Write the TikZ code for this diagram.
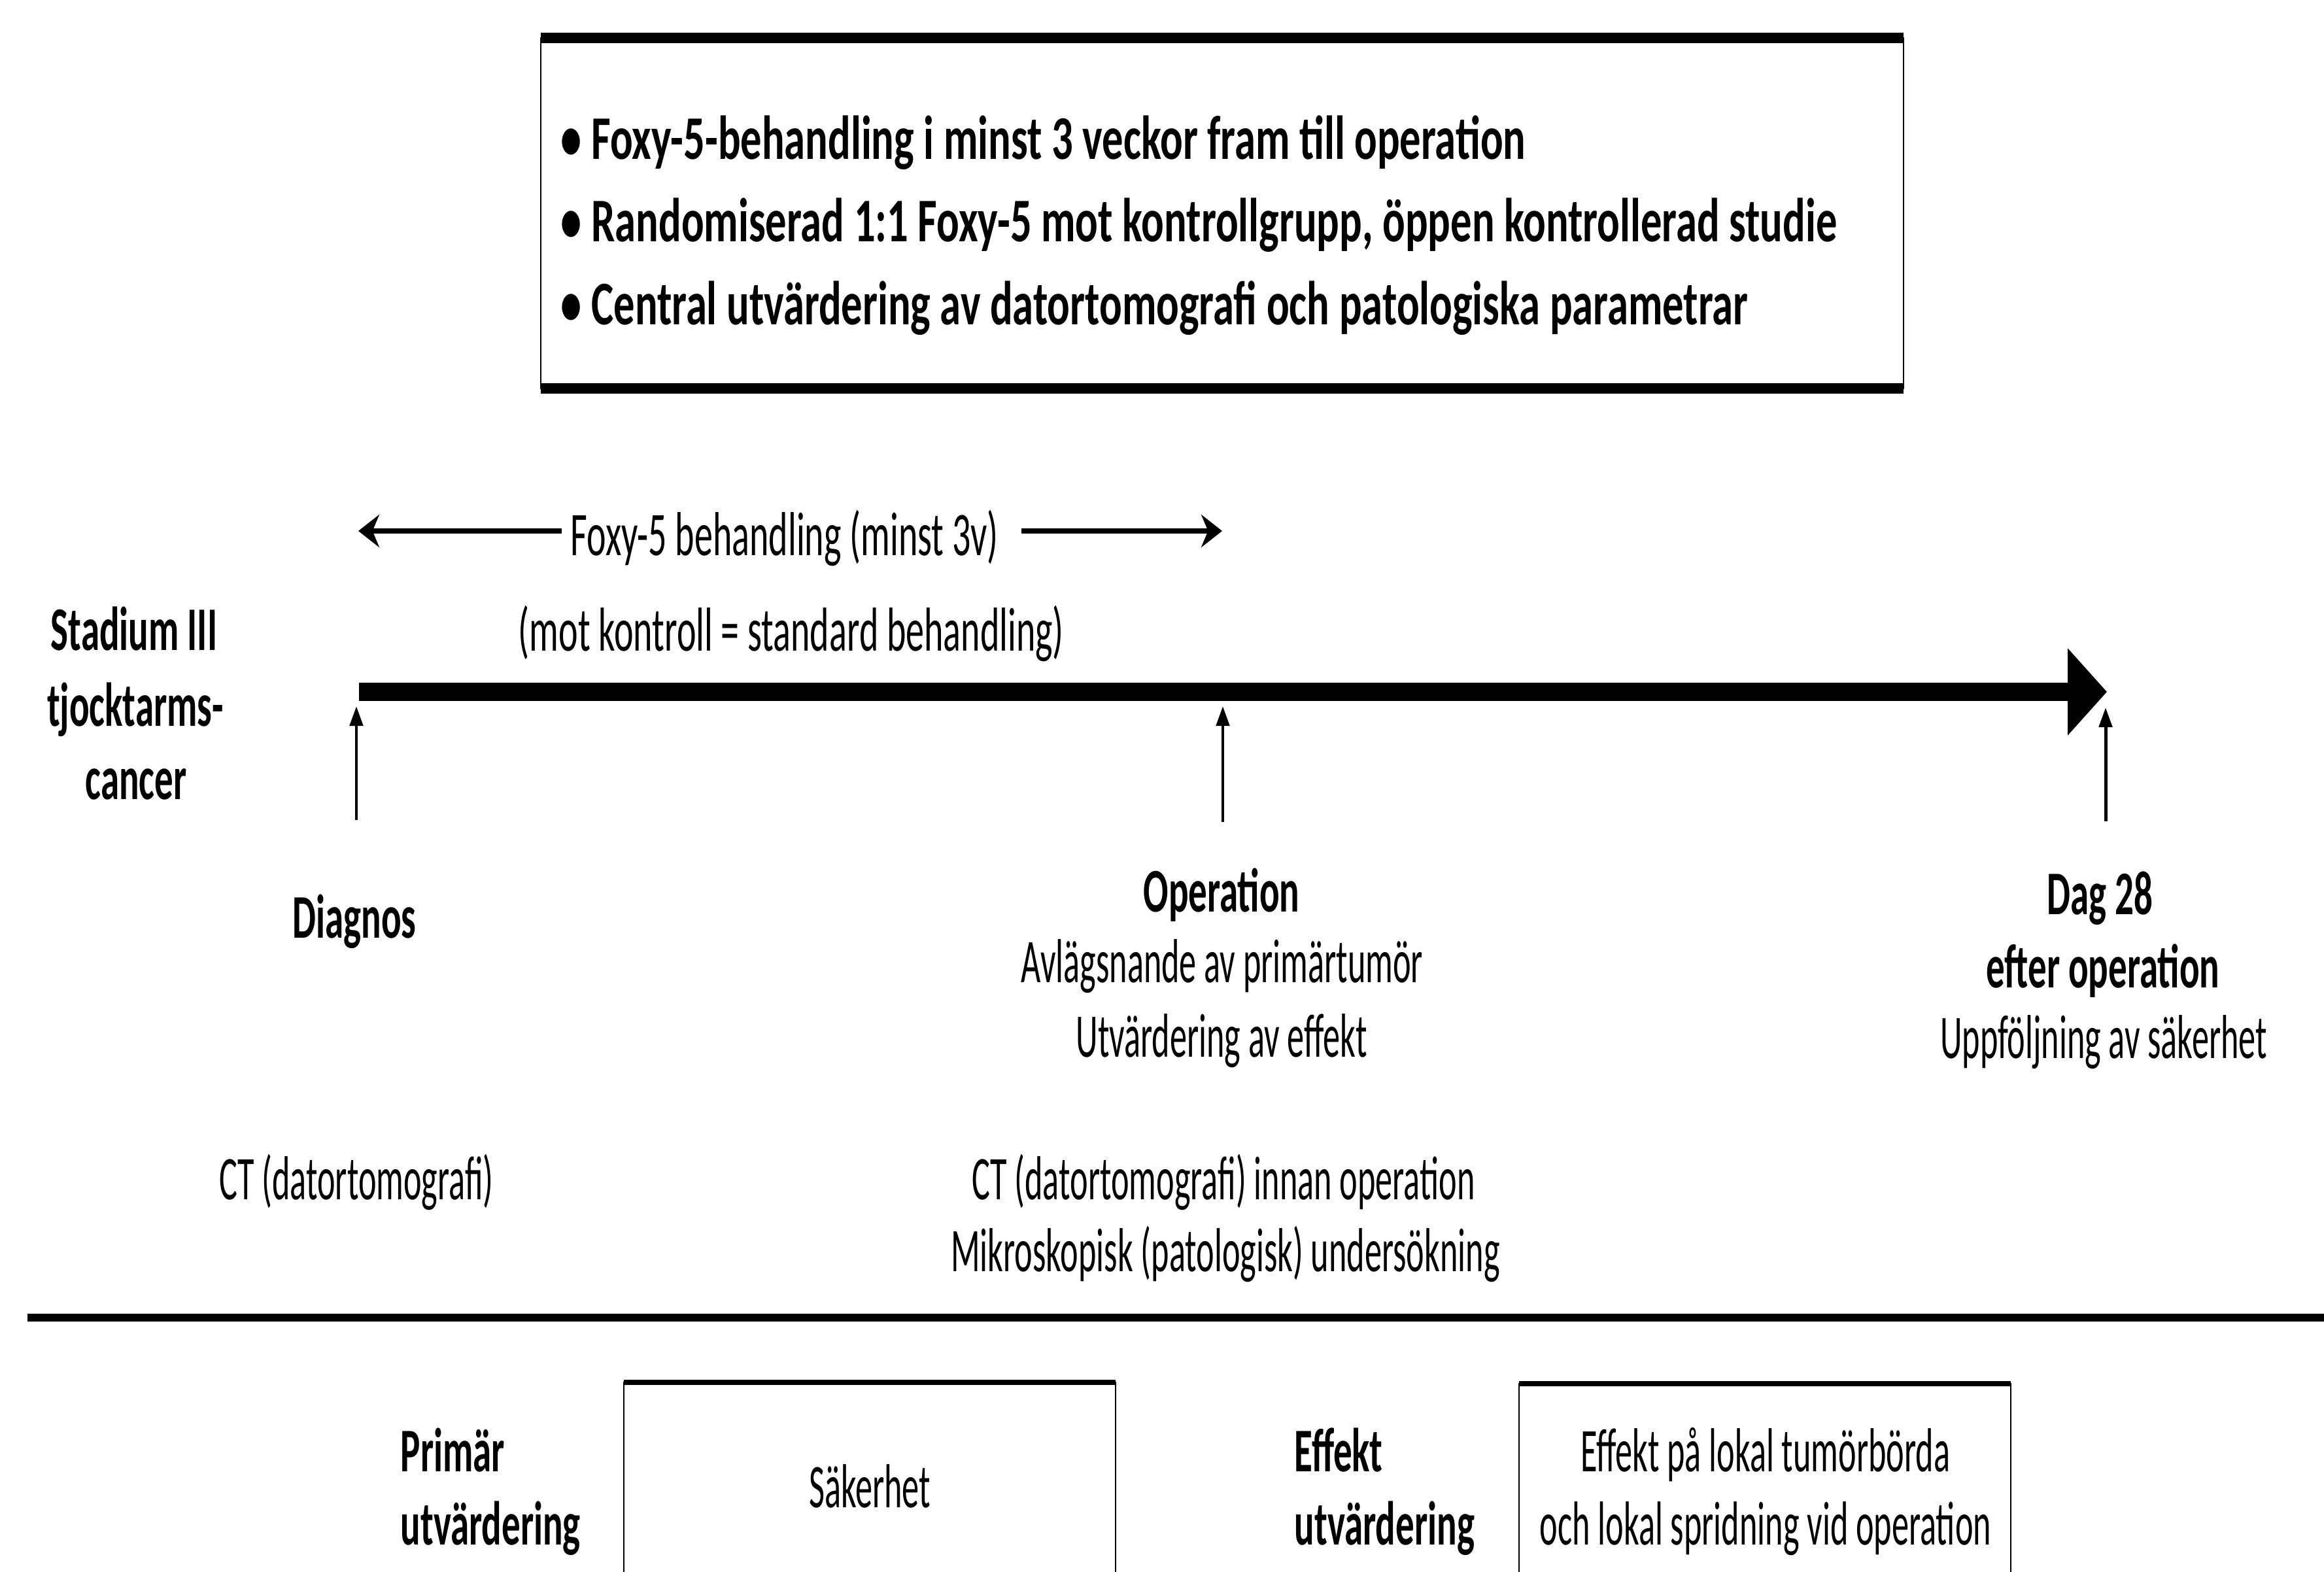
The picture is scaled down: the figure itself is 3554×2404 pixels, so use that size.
\documentclass[tikz,border=0pt]{standalone}
\usepackage{fontspec}
\setmainfont{Carlito}[FakeStretch=0.55, BoldFeatures={FakeStretch=0.60}]
\newfontfamily\topfont{Carlito}[FakeStretch=0.68]
\newfontfamily\foxfont{Carlito}[FakeStretch=0.59]
\usetikzlibrary{arrows.meta}
\newcommand\fsz{\fontsize{27pt}{32pt}\selectfont}
\begin{document}
\begin{tikzpicture}[x=0.01cm,y=-0.01cm,
  txt/.style={font=\fsz, inner sep=0pt, anchor=base},
  btxt/.style={font=\fsz\bfseries, inner sep=0pt, anchor=base},
  toptxt/.style={font=\fsz\topfont\bfseries, inner sep=0pt, anchor=base west},
  foxtxt/.style={font=\fsz\foxfont, inner sep=0pt, anchor=base},
  thinarrow/.style={line width=1.4pt, -{Triangle[length=0.3cm,width=0.2cm]}},
  foxarrow/.style={line width=2.3pt, -{Stealth[length=0.32cm,width=0.5cm]}},
  mainbar/.style={line width=0.27cm, -{Triangle[length=0.6cm,width=1.3cm]}},
  boxside/.style={line width=0.8pt},
  boxtop/.style={line width=4.5pt}]
\useasboundingbox (0,0) rectangle (3554,2404);
\fill[white] (0,0) rectangle (3554,2404);

% top box
\coordinate (tb1) at (827,58);
\coordinate (tb2) at (2911,58);
\coordinate (tb3) at (2911,594);
\coordinate (tb4) at (827,594);
\draw[boxside] (tb1) -- (tb2) -- (tb3) -- (tb4) -- cycle;
\draw[boxtop] (tb1) -- (tb2);
\draw[boxtop] (tb4) -- (tb3);
\node[toptxt] (l1) at (857,244) {• Foxy-5-behandling i minst 3 veckor fram till operation};
\node[toptxt] (l2) at (857,370) {• Randomiserad 1:1 Foxy-5 mot kontrollgrupp, öppen kontrollerad studie};
\node[toptxt] (l3) at (857,497) {• Central utvärdering av datortomografi och patologiska parametrar};

% Foxy arrow
\node[foxtxt] (foxy) at (1200,850) {Foxy-5 behandling (minst 3v)};
\coordinate (fl0) at (859,812);
\coordinate (fl) at (548,812);
\coordinate (fr0) at (1562,812);
\coordinate (fr) at (1869,812);
\draw[foxarrow] (fl0) -- (fl);
\draw[foxarrow] (fr0) -- (fr);
\node[foxtxt] (mot) at (1210,996) {(mot kontroll = standard behandling)};

% main timeline
\coordinate (bars) at (549,1058);
\coordinate (bare) at (3222,1058);
\draw[mainbar] (bars) -- (bare);

% stadium
\node[btxt] (s1) at (205,995) {Stadium III};
\node[btxt] (s2) at (207,1110) {tjocktarms-};
\node[btxt] (s3) at (208,1222) {cancer};

% diagnos
\coordinate (da0) at (545,1254);
\coordinate (da1) at (545,1080);
\draw[thinarrow] (da0) -- (da1);
\node[btxt] (diag) at (542,1434) {Diagnos};
\node[txt] (ct1) at (545,1834) {CT (datortomografi)};

% operation
\coordinate (oa0) at (1870,1257);
\coordinate (oa1) at (1870,1080);
\draw[thinarrow] (oa0) -- (oa1);
\node[btxt] (op) at (1868,1394) {Operation};
\node[txt] (op2) at (1869,1502) {Avlägsnande av primärtumör};
\node[txt] (op3) at (1868,1616) {Utvärdering av effekt};
\node[txt] (ct2) at (1871,1834) {CT (datortomografi) innan operation};
\node[txt] (mik) at (1874,1944) {Mikroskopisk (patologisk) undersökning};

% dag 28
\coordinate (ga0) at (3220,1256);
\coordinate (ga1) at (3220,1082);
\draw[thinarrow] (ga0) -- (ga1);
\node[btxt] (dag) at (3211,1398) {Dag 28};
\node[btxt] (eft) at (3216,1510) {efter operation};
\node[txt] (upp) at (3217,1618) {Uppföljning av säkerhet};

% separator
\coordinate (sep0) at (42,2015);
\coordinate (sep1) at (3554,2015);
\draw[line width=3.4pt] (sep0) -- (sep1);

% bottom boxes
\draw[boxside] (954,2420) -- (954,2114) -- (1706,2114) -- (1706,2420);
\draw[line width=2.3pt] (954,2114) -- (1706,2114);
\draw[boxside] (2323,2420) -- (2323,2116) -- (3075,2116) -- (3075,2420);
\draw[line width=2.3pt] (2323,2116) -- (3075,2116);

\node[btxt, anchor=base west] (p1) at (612,2250) {Primär};
\node[btxt, anchor=base west] (p2) at (612,2362) {utvärdering};
\node[txt] (sak) at (1330,2305) {Säkerhet};
\node[btxt, anchor=base west] (e1) at (1979,2250) {Effekt};
\node[btxt, anchor=base west] (e2) at (1979,2362) {utvärdering};
\node[txt] (ef1) at (2700,2250) {Effekt på lokal tumörbörda};
\node[txt] (ef2) at (2700,2362) {och lokal spridning vid operation};
\end{tikzpicture}
\end{document}
